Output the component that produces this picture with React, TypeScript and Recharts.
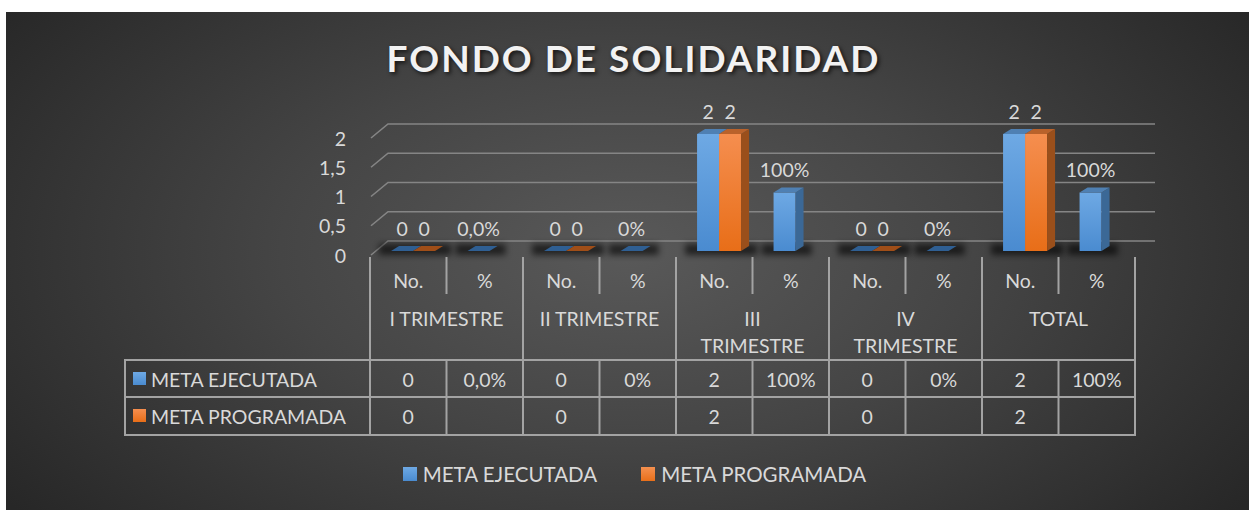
import React from 'react';
import { BarChart, Bar, XAxis, YAxis, CartesianGrid, Legend } from 'recharts';

const subLabels = ['No.', '%', 'No.', '%', 'No.', '%', 'No.', '%', 'No.', '%'];
const groupLines = [['I TRIMESTRE'], ['II TRIMESTRE'], ['III', 'TRIMESTRE'], ['IV', 'TRIMESTRE'], ['TOTAL']];
const ejecutada = [0, 0, 0, 0, 2, 1, 0, 0, 2, 1];
const programada = [0, null, 0, null, 2, null, 0, null, 2, null];
const ejecutadaText = ['0', '0,0%', '0', '0%', '2', '100%', '0', '0%', '2', '100%'];
const programadaText = ['0', '', '0', '', '2', '', '0', '', '2', ''];
const yTicks = [0, 0.5, 1, 1.5, 2];

const data = subLabels.map((sub, i) => ({
  idx: i,
  sub,
  ejecutada: ejecutada[i],
  programada: programada[i],
}));

const FONT = 'Lato, "Open Sans", sans-serif';
const TXT = '#d9d9d9';
const LINE = '#a3a3a3';

const W = 1243;
const H = 498;
const margin = { top: 126, right: 114, left: 304, bottom: 75 };
const Y_W = 60;
const X_H = 180;
const BAND = (W - margin.left - Y_W - margin.right) / subLabels.length;

// bar face offset from the front plane, and bar depth
const BX = 5;
const BY = -4;
const DX = 8;
const DY = -5;

const blue = { front: 'url(#gBlue)', top: '#4f80b3', side: '#3b6896', flat: '#2f5f93' };
const orange = { front: 'url(#gOrange)', top: '#b9622b', side: '#9a4f1b', flat: '#a04e18' };

function Bar3D(props: any) {
  const { x, y, width, height, payload, isBlue } = props;
  if (!payload || x == null || isNaN(y)) return null;
  const i = payload.idx;
  const val = isBlue ? ejecutada[i] : programada[i];
  if (val == null) return null;
  const c = isBlue ? blue : orange;
  const fx = x + BX;
  const fy = y + BY;
  const w = width;
  const h = Math.max(height || 0, 0);
  const label = isBlue ? ejecutadaText[i] : programadaText[i];
  const pair = isBlue && programada[i] != null;
  const top = `M${fx},${fy} L${fx + w},${fy} L${fx + w + DX},${fy + DY} L${fx + DX},${fy + DY} Z`;
  const side = `M${fx + w},${fy} L${fx + w + DX},${fy + DY} L${fx + w + DX},${fy + h + DY} L${fx + w},${fy + h} Z`;
  return (
    <g>
      {isBlue && (
        <rect x={fx - 12} y={fy + h - 7} width={(pair ? 2 * w : w) + 28} height={11}
          fill="#000" opacity={0.6} filter="url(#floorShadow)" />
      )}
      {h > 0 ? (
        <>
          <rect x={fx} y={fy} width={w} height={h} fill={c.front} />
          <path d={side} fill={c.side} />
          <path d={top} fill={c.top} />
        </>
      ) : (
        <path d={top} fill={c.flat} />
      )}
      {label && (
        <text x={fx + w / 2} y={fy - 23} textAnchor="middle" dominantBaseline="central"
          fill={TXT} fontSize={19.5} fontFamily={FONT}>{label}</text>
      )}
    </g>
  );
}

function GridLine(props: any) {
  const { x1, y1, x2 } = props;
  return (
    <path d={`M${x1 + 1},${y1} L${x1 + 18},${y1 - 14} L${x2 + 20},${y1 - 14}`}
      fill="none" stroke="#858585" strokeWidth={1.6} />
  );
}

function YTick(props: any) {
  const { x, y, payload } = props;
  return (
    <text x={x} y={y} textAnchor="end" dominantBaseline="central" fill={TXT} fontSize={19.5} fontFamily={FONT}>
      {String(payload.value).replace('.', ',')}
    </text>
  );
}

function TableTick(props: any) {
  const { y, payload } = props;
  const i = payload.index;
  const cx = payload.coordinate;
  const l = cx - BAND / 2;
  const r = cx + BAND / 2;
  const b = y;
  const ln = (x1: number, y1: number, x2: number, y2: number, k: string) => (
    <line key={k} x1={x1} y1={y1} x2={x2} y2={y2} stroke={LINE} strokeWidth={2} strokeLinecap="square" />
  );
  const t = (tx: number, ty: number, s: string, k: string, anchor = 'middle') => (
    <text key={k} x={tx} y={ty} textAnchor={anchor} dominantBaseline="central" fill={TXT} fontSize={19.5} fontFamily={FONT}>{s}</text>
  );
  const els: any[] = [];
  if (i % 2 === 0) {
    els.push(ln(l, b + 3, l, b + 180, 'vl'));
    groupLines[i / 2].forEach((s, k) => els.push(t(r, b + 63 + 27 * k, s, 'g' + k)));
  } else {
    els.push(ln(l, b + 3, l, b + 38, 'vs1'));
    els.push(ln(l, b + 105, l, b + 180, 'vs2'));
  }
  if (i === subLabels.length - 1) els.push(ln(r, b + 3, r, b + 180, 'vr'));
  [105, 142, 180].forEach((d) => els.push(ln(l, b + d, r, b + d, 'h' + d)));
  els.push(t(cx, b + 25, payload.value, 'sub'));
  els.push(t(cx, b + 124, ejecutadaText[i], 'e'));
  els.push(t(cx, b + 161, programadaText[i], 'p'));
  if (i === 0) {
    const hx = l - 245;
    [105, 142, 180].forEach((d) => els.push(ln(hx, b + d, l, b + d, 'hh' + d)));
    els.push(ln(hx, b + 105, hx, b + 180, 'hv'));
    els.push(<rect key="sq1" x={l - 237} y={b + 117} width={13} height={13} fill="url(#gBlue)" />);
    els.push(<rect key="sq2" x={l - 237} y={b + 154} width={13} height={13} fill="url(#gOrange)" />);
    els.push(t(l - 219, b + 124, 'META EJECUTADA', 'n1', 'start'));
    els.push(t(l - 219, b + 161, 'META PROGRAMADA', 'n2', 'start'));
  }
  return <g>{els}</g>;
}

function LegendContent(props: any) {
  const items = props.payload || [];
  return (
    <div style={{ display: 'flex', justifyContent: 'center', gap: 44, paddingLeft: 14, fontFamily: FONT, fontSize: 20.5, color: TXT }}>
      {items.map((e: any) => (
        <div key={e.value} style={{ display: 'flex', alignItems: 'center', gap: 6 }}>
          <span style={{ width: 14, height: 14, display: 'inline-block', background: e.value === 'META EJECUTADA' ? 'linear-gradient(#6ea9e4, #4a8bd0)' : 'linear-gradient(#f4904f, #e86f1a)' }} />
          <span>{e.value}</span>
        </div>
      ))}
    </div>
  );
}

export default function App() {
  return (
    <div style={{ position: 'absolute', left: 6, top: 12, width: W, height: H, overflow: 'hidden',
      background: 'radial-gradient(ellipse 62% 85% at 50% 48%, #595959 0%, #454545 45%, #272727 100%)' }}>
      <svg width={0} height={0} style={{ position: 'absolute' }}>
        <defs>
          <linearGradient id="gBlue" x1="0" y1="0" x2="0" y2="1">
            <stop offset="0%" stopColor="#6ea9e4" />
            <stop offset="100%" stopColor="#4a8bd0" />
          </linearGradient>
          <linearGradient id="gOrange" x1="0" y1="0" x2="0" y2="1">
            <stop offset="0%" stopColor="#f58e4f" />
            <stop offset="100%" stopColor="#e86e18" />
          </linearGradient>
          <filter id="floorShadow" x="-50%" y="-200%" width="200%" height="500%">
            <feGaussianBlur stdDeviation="3" />
          </filter>
        </defs>
      </svg>
      <div style={{ position: 'absolute', top: 23, left: 6, width: W, textAlign: 'center', fontFamily: FONT,
        fontWeight: 700, fontSize: 37, letterSpacing: 2, color: '#f2f2f2', textShadow: '2px 2px 4px rgba(0,0,0,0.7)' }}>
        FONDO DE SOLIDARIDAD
      </div>
      <BarChart width={W} height={H} data={data} margin={margin} barCategoryGap="21%" barGap={0}>
        <CartesianGrid vertical={false} horizontal={(p: any) => <GridLine {...p} />} />
        <XAxis dataKey="sub" height={X_H} interval={0} axisLine={false} tickLine={false} tickSize={0} tickMargin={0}
          tick={(p: any) => <TableTick {...p} />} />
        <YAxis width={Y_W} domain={[0, 2]} ticks={yTicks} axisLine={false} tickLine={false} tickSize={0} tickMargin={24}
          tick={(p: any) => <YTick {...p} />} />
        <Legend verticalAlign="middle" align="center" layout="horizontal"
          wrapperStyle={{ top: 450, left: 0, width: W }} content={(p: any) => <LegendContent {...p} />} />
        <Bar dataKey="ejecutada" name="META EJECUTADA" fill="#5b9bd5" isAnimationActive={false}
          shape={(p: any) => <Bar3D {...p} isBlue />} />
        <Bar dataKey="programada" name="META PROGRAMADA" fill="#ed7d31" isAnimationActive={false}
          shape={(p: any) => <Bar3D {...p} isBlue={false} />} />
      </BarChart>
    </div>
  );
}
